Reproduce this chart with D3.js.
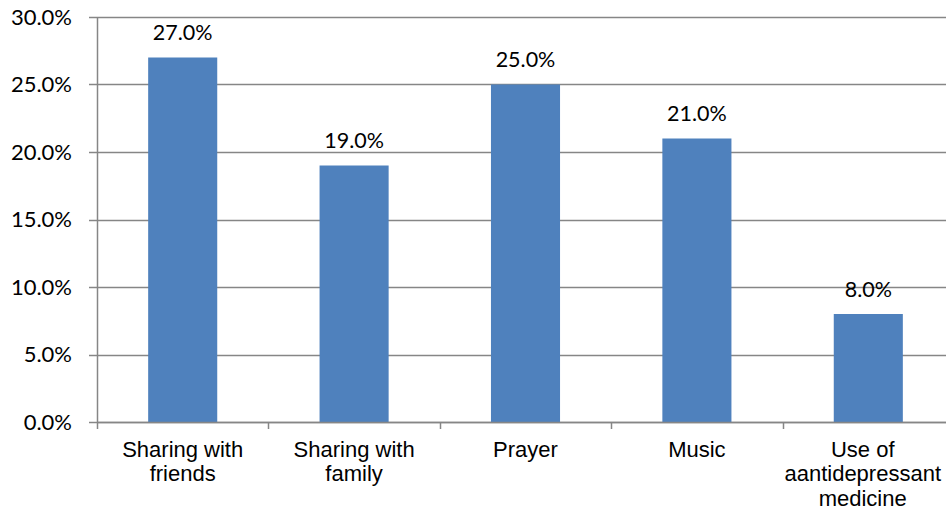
<!DOCTYPE html>
<html>
<head>
<meta charset="utf-8">
<script src="https://cdn.jsdelivr.net/npm/d3@7"></script>
<style>
  body { margin: 0; background: #fff; }
  svg { display: block; }
</style>
</head>
<body>
<svg id="chart" width="946" height="512"></svg>
<script>
// Coping strategies and share of respondents using each
const categories = [
  ["Sharing with", "friends"],
  ["Sharing with", "family"],
  ["Prayer"],
  ["Music"],
  ["Use of", "aantidepressant", "medicine"]
];
const values = [27.0, 19.0, 25.0, 21.0, 8.0];
const yTicks = [0, 5, 10, 15, 20, 25, 30];

const svg = d3.select("#chart");
// plot area runs slightly past the right edge of the canvas
const margin = { top: 17, right: -8, bottom: 90, left: 97 };
const width = 946 - margin.left - margin.right;
const height = 512 - margin.top - margin.bottom;

const g = svg.append("g").attr("transform", `translate(${margin.left},${margin.top})`);

const keys = categories.map((c, i) => i);
const x = d3.scaleBand().domain(keys).range([0, width]).paddingInner(0.597).paddingOuter(0.2985);
const xTick = d3.scaleBand().domain(keys).range([0, width]);
const y = d3.scaleLinear().domain([0, 30]).range([height, 0]);

const axisColor = "#868686";
const numFont = "Lato, 'Open Sans', sans-serif";
const textFont = "'Liberation Sans', Arial, sans-serif";

// horizontal gridlines with small left ticks
g.append("g")
  .selectAll("line")
  .data(yTicks)
  .join("line")
  .attr("x1", -8)
  .attr("x2", width)
  .attr("y1", d => Math.round(y(d)) + 0.5)
  .attr("y2", d => Math.round(y(d)) + 0.5)
  .attr("stroke", axisColor)
  .attr("stroke-width", 1.5);

// y tick labels
g.append("g")
  .selectAll("text")
  .data(yTicks)
  .join("text")
  .attr("x", -25)
  .attr("y", d => y(d))
  .attr("dy", "0.35em")
  .attr("text-anchor", "end")
  .attr("font-family", numFont)
  .attr("font-size", 22)
  .attr("fill", "#000")
  .text(d => d.toFixed(1) + "%");

// bars
g.append("g")
  .selectAll("rect")
  .data(values)
  .join("rect")
  .attr("x", (d, i) => x(i))
  .attr("width", x.bandwidth())
  .attr("y", d => y(d))
  .attr("height", d => height - y(d))
  .attr("fill", "#4f81bd");

// y axis line
g.append("line")
  .attr("x1", 0.5).attr("x2", 0.5)
  .attr("y1", 0).attr("y2", height)
  .attr("stroke", axisColor)
  .attr("stroke-width", 1.5);

// x axis line and category separators
g.append("line")
  .attr("x1", 0).attr("x2", width)
  .attr("y1", height + 0.5).attr("y2", height + 0.5)
  .attr("stroke", axisColor)
  .attr("stroke-width", 1.5);

g.append("g")
  .selectAll("line")
  .data(keys)
  .join("line")
  .attr("x1", d => Math.round(xTick(d)) + 0.5)
  .attr("x2", d => Math.round(xTick(d)) + 0.5)
  .attr("y1", height)
  .attr("y2", height + 7)
  .attr("stroke", axisColor)
  .attr("stroke-width", 1.5);

// value labels
g.append("g")
  .selectAll("text")
  .data(values)
  .join("text")
  .attr("x", (d, i) => x(i) + x.bandwidth() / 2)
  .attr("y", d => y(d) - 17.5)
  .attr("text-anchor", "middle")
  .attr("font-family", numFont)
  .attr("font-size", 21.5)
  .attr("fill", "#000")
  .text(d => d.toFixed(1) + "%");

// category labels, kept inside the visible canvas
const visibleRight = 946 - 5 - margin.left;
const catG = g.append("g")
  .selectAll("text")
  .data(categories)
  .join("text")
  .attr("y", height + 34.5)
  .attr("text-anchor", "middle")
  .attr("font-family", textFont)
  .attr("font-size", 22)
  .attr("fill", "#000");

catG.selectAll("tspan")
  .data(d => d)
  .join("tspan")
  .attr("dy", (d, i) => i === 0 ? 0 : 24.5)
  .text(d => d);

catG.each(function (d, i) {
  const t = d3.select(this);
  const w = d3.max(t.selectAll("tspan").nodes(), n => n.getComputedTextLength());
  const cx = Math.min(x(i) + x.bandwidth() / 2, visibleRight - w / 2);
  t.attr("x", cx);
  t.selectAll("tspan").attr("x", cx);
});
</script>
</body>
</html>
